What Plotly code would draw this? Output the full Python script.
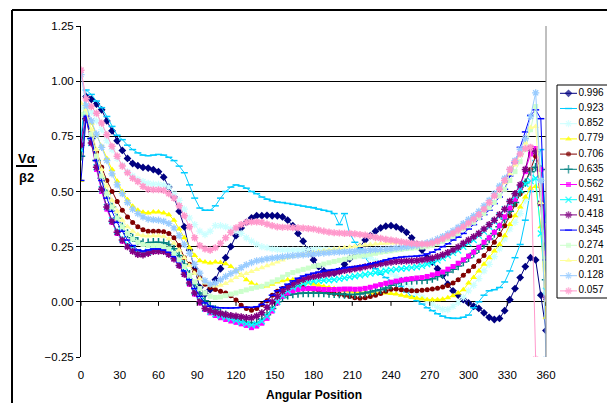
import plotly.graph_objects as go

# ---------------- data ----------------
angles = list(range(0, 361, 4))
series_names = ["0.996", "0.923", "0.852", "0.779", "0.706", "0.635", "0.562",
                "0.491", "0.418", "0.345", "0.274", "0.201", "0.128", "0.057"]
x_ticks = list(range(0, 361, 30))
y_ticks = [-0.25, 0.0, 0.25, 0.5, 0.75, 1.0, 1.25]

v0996 = [0.72, 0.93, 0.918, 0.896, 0.87, 0.82, 0.775, 0.73, 0.686, 0.65,
         0.627, 0.617, 0.609, 0.606, 0.599, 0.59, 0.565, 0.52, 0.475, 0.41,
         0.34, 0.235, 0.15, 0.065, 0.035, 0.056, 0.10, 0.15, 0.20, 0.25,
         0.30, 0.335, 0.36, 0.38, 0.39, 0.39, 0.392, 0.39, 0.39, 0.385,
         0.37, 0.345, 0.31, 0.275, 0.235, 0.19, 0.16, 0.14, 0.13, 0.13,
         0.14, 0.17, 0.195, 0.22, 0.25, 0.28, 0.30, 0.32, 0.335, 0.343,
         0.345, 0.34, 0.33, 0.315, 0.29, 0.26, 0.235, 0.20, 0.18, 0.15,
         0.12, 0.08, 0.05, 0.03, 0.01, -0.005, -0.02, -0.03, -0.05, -0.07,
         -0.08, -0.075, -0.04, 0.01, 0.06, 0.11, 0.16, 0.20, 0.19, 0.03,
         -0.13]
v0923 = [0.74, 0.96, 0.94, 0.91, 0.88, 0.84, 0.795, 0.755, 0.735, 0.71,
         0.69, 0.675, 0.665, 0.662, 0.665, 0.668, 0.665, 0.655, 0.64, 0.615,
         0.585, 0.53, 0.47, 0.425, 0.415, 0.415, 0.435, 0.47, 0.50, 0.52,
         0.53, 0.525, 0.515, 0.50, 0.49, 0.475, 0.465, 0.458, 0.452, 0.45,
         0.446, 0.442, 0.438, 0.434, 0.43, 0.427, 0.42, 0.415, 0.41, 0.40,
         0.35, 0.40, 0.31, 0.27, 0.24, 0.20, 0.17, 0.15, 0.125, 0.11,
         0.095, 0.085, 0.07, 0.045, 0.025, 0.005, -0.01, -0.027, -0.04, -0.054,
         -0.065, -0.072, -0.075, -0.075, -0.07, -0.06, -0.027, 0.0, 0.03, 0.05,
         0.055, 0.065, 0.09, 0.14, 0.20, 0.26, 0.37, 0.50, 0.64, 0.69,
         0.36]
v0852 = [0.88, 0.89, 0.86, 0.82, 0.78, 0.73, 0.69, 0.65, 0.62, 0.59,
         0.57, 0.555, 0.545, 0.537, 0.533, 0.532, 0.53, 0.52, 0.49, 0.46,
         0.42, 0.38, 0.35, 0.32, 0.305, 0.32, 0.345, 0.345, 0.34, 0.33,
         0.32, 0.31, 0.29, 0.275, 0.26, 0.25, 0.245, 0.24, 0.237, 0.235,
         0.235, 0.235, 0.235, 0.236, 0.237, 0.238, 0.238, 0.237, 0.236, 0.235,
         0.232, 0.23, 0.228, 0.225, 0.22, 0.21, 0.20, 0.185, 0.165, 0.148,
         0.13, 0.115, 0.10, 0.08, 0.06, 0.04, 0.02, 0.005, -0.01, -0.025,
         -0.035, -0.035, -0.02, -0.003, 0.02, 0.05, 0.075, 0.105, 0.14, 0.17,
         0.205, 0.24, 0.285, 0.33, 0.36, 0.40, 0.46, 0.53, 0.63, 0.55,
         0.16]
v0779 = [0.55, 0.855, 0.81, 0.757, 0.704, 0.65, 0.60, 0.546, 0.50, 0.463,
         0.433, 0.415, 0.406, 0.403, 0.407, 0.407, 0.403, 0.395, 0.37, 0.33,
         0.29, 0.245, 0.21, 0.186, 0.181, 0.176, 0.18, 0.178, 0.173, 0.16,
         0.143, 0.12, 0.10, 0.085, 0.075, 0.07, 0.072, 0.08, 0.09, 0.095,
         0.10, 0.10, 0.095, 0.09, 0.085, 0.08, 0.075, 0.07, 0.065, 0.06,
         0.055, 0.05, 0.048, 0.045, 0.043, 0.042, 0.04, 0.04, 0.04, 0.04,
         0.038, 0.035, 0.03, 0.025, 0.02, 0.016, 0.013, 0.01, 0.01, 0.01,
         0.012, 0.018, 0.028, 0.04, 0.055, 0.085, 0.11, 0.14, 0.17, 0.20,
         0.23, 0.26, 0.30, 0.35, 0.39, 0.43, 0.475, 0.515, 0.523, 0.34,
         -0.07]
v0706 = [0.70, 0.84, 0.76, 0.68, 0.61, 0.55, 0.50, 0.455, 0.415, 0.385,
         0.36, 0.34, 0.327, 0.32, 0.32, 0.32, 0.318, 0.31, 0.29, 0.255,
         0.20, 0.17, 0.14, 0.11, 0.08, 0.065, 0.056, 0.048, 0.04, 0.028,
         0.008, -0.015, -0.03, -0.038, -0.03, -0.012, 0.005, 0.03, 0.048, 0.06,
         0.066, 0.07, 0.07, 0.067, 0.062, 0.057, 0.052, 0.046, 0.042, 0.038,
         0.034, 0.03, 0.024, 0.018, 0.016, 0.018, 0.024, 0.03, 0.038, 0.048,
         0.057, 0.058, 0.055, 0.052, 0.05, 0.05, 0.052, 0.055, 0.058, 0.062,
         0.067, 0.074, 0.085, 0.10, 0.12, 0.14, 0.16, 0.185, 0.21, 0.24,
         0.27, 0.305, 0.345, 0.39, 0.44, 0.49, 0.54, 0.60, 0.66, 0.60,
         0.26]
v0635 = [0.66, 0.83, 0.74, 0.64, 0.56, 0.49, 0.43, 0.38, 0.34, 0.31,
         0.29, 0.275, 0.268, 0.268, 0.27, 0.27, 0.268, 0.26, 0.24, 0.21,
         0.17, 0.125, 0.08, 0.04, 0.005, -0.02, -0.035, -0.048, -0.058, -0.068,
         -0.078, -0.087, -0.093, -0.097, -0.095, -0.08, -0.058, -0.03, 0.0, 0.02,
         0.03, 0.035, 0.038, 0.04, 0.04, 0.04, 0.04, 0.04, 0.038, 0.036,
         0.035, 0.033, 0.033, 0.033, 0.036, 0.04, 0.045, 0.05, 0.055, 0.063,
         0.075, 0.085, 0.092, 0.095, 0.097, 0.098, 0.099, 0.10, 0.105, 0.115,
         0.125, 0.135, 0.148, 0.162, 0.18, 0.20, 0.22, 0.24, 0.26, 0.285,
         0.31, 0.34, 0.375, 0.41, 0.45, 0.495, 0.54, 0.59, 0.61, 0.60,
         0.10]
v0562 = [0.72, 0.84, 0.72, 0.60, 0.50, 0.42, 0.36, 0.31, 0.275, 0.25,
         0.23, 0.218, 0.215, 0.22, 0.228, 0.23, 0.228, 0.215, 0.195, 0.165,
         0.125, 0.08, 0.035, -0.005, -0.035, -0.05, -0.062, -0.072, -0.08, -0.087,
         -0.093, -0.10, -0.107, -0.117, -0.11, -0.097, -0.075, -0.042, -0.005, 0.025,
         0.04, 0.05, 0.056, 0.059, 0.06, 0.06, 0.058, 0.056, 0.056, 0.056,
         0.057, 0.058, 0.058, 0.057, 0.058, 0.061, 0.066, 0.072, 0.078, 0.084,
         0.089, 0.094, 0.098, 0.102, 0.105, 0.108, 0.11, 0.115, 0.122, 0.128,
         0.135, 0.148, 0.16, 0.175, 0.19, 0.207, 0.225, 0.247, 0.27, 0.29,
         0.315, 0.345, 0.385, 0.425, 0.465, 0.52, 0.59, 0.67, 0.695, 0.60,
         0.22]
v0491 = [0.69, 0.84, 0.72, 0.61, 0.51, 0.43, 0.37, 0.32, 0.285, 0.26,
         0.24, 0.225, 0.222, 0.227, 0.235, 0.238, 0.235, 0.225, 0.205, 0.175,
         0.135, 0.09, 0.045, 0.005, -0.03, -0.045, -0.055, -0.063, -0.07, -0.077,
         -0.085, -0.092, -0.10, -0.105, -0.10, -0.088, -0.065, -0.035, 0.0, 0.03,
         0.05, 0.065, 0.074, 0.083, 0.089, 0.093, 0.095, 0.097, 0.098, 0.10,
         0.104, 0.108, 0.112, 0.116, 0.12, 0.124, 0.128, 0.132, 0.136, 0.14,
         0.145, 0.147, 0.15, 0.152, 0.155, 0.158, 0.163, 0.17, 0.178, 0.188,
         0.198, 0.21, 0.222, 0.233, 0.25, 0.265, 0.28, 0.30, 0.318, 0.34,
         0.365, 0.39, 0.42, 0.45, 0.48, 0.51, 0.535, 0.548, 0.56, 0.31,
         0.05]
v0418 = [0.71, 0.83, 0.72, 0.61, 0.51, 0.43, 0.365, 0.315, 0.28, 0.25,
         0.23, 0.215, 0.213, 0.22, 0.228, 0.23, 0.228, 0.215, 0.195, 0.165,
         0.125, 0.085, 0.04, 0.0, -0.03, -0.04, -0.048, -0.053, -0.058, -0.062,
         -0.065, -0.068, -0.072, -0.072, -0.065, -0.05, -0.025, 0.0, 0.025, 0.048,
         0.065, 0.08, 0.093, 0.102, 0.11, 0.115, 0.119, 0.123, 0.127, 0.132,
         0.137, 0.142, 0.146, 0.15, 0.154, 0.159, 0.164, 0.169, 0.173, 0.176,
         0.18, 0.183, 0.184, 0.185, 0.186, 0.187, 0.19, 0.193, 0.198, 0.205,
         0.213, 0.223, 0.235, 0.248, 0.265, 0.28, 0.295, 0.31, 0.33, 0.35,
         0.37, 0.395, 0.42, 0.455, 0.49, 0.53, 0.60, 0.697, 0.68, 0.446,
         0.02]
v0345 = [0.55, 0.84, 0.74, 0.64, 0.55, 0.47, 0.41, 0.36, 0.32, 0.28,
         0.255, 0.235, 0.23, 0.235, 0.24, 0.24, 0.235, 0.225, 0.205, 0.18,
         0.14, 0.10, 0.06, 0.025, -0.005, -0.02, -0.025, -0.027, -0.028, -0.028,
         -0.027, -0.025, -0.025, -0.025, -0.022, -0.012, 0.005, 0.03, 0.05, 0.065,
         0.08, 0.095, 0.107, 0.117, 0.124, 0.13, 0.135, 0.14, 0.143, 0.146,
         0.15, 0.154, 0.157, 0.16, 0.163, 0.167, 0.172, 0.177, 0.183, 0.19,
         0.196, 0.20, 0.203, 0.205, 0.206, 0.207, 0.21, 0.217, 0.225, 0.237,
         0.25, 0.263, 0.28, 0.293, 0.31, 0.33, 0.35, 0.375, 0.395, 0.415,
         0.445, 0.475, 0.51, 0.57, 0.63, 0.70, 0.77, 0.845, 0.87, 0.83,
         0.19]
v0274 = [0.85, 0.86, 0.76, 0.66, 0.57, 0.49, 0.43, 0.38, 0.34, 0.31,
         0.285, 0.27, 0.26, 0.255, 0.255, 0.255, 0.25, 0.24, 0.22, 0.19,
         0.16, 0.12, 0.09, 0.06, 0.04, 0.025, 0.02, 0.022, 0.028, 0.035,
         0.04, 0.047, 0.054, 0.06, 0.066, 0.07, 0.08, 0.09, 0.10, 0.112,
         0.124, 0.133, 0.14, 0.147, 0.153, 0.16, 0.165, 0.171, 0.177, 0.183,
         0.188, 0.193, 0.199, 0.204, 0.208, 0.212, 0.216, 0.22, 0.225, 0.228,
         0.231, 0.235, 0.238, 0.241, 0.243, 0.245, 0.248, 0.252, 0.256, 0.264,
         0.274, 0.285, 0.297, 0.31, 0.33, 0.345, 0.36, 0.38, 0.40, 0.425,
         0.45, 0.48, 0.51, 0.55, 0.59, 0.635, 0.69, 0.78, 0.885, 0.55,
         0.04]
v0201 = [0.90, 0.87, 0.78, 0.69, 0.60, 0.525, 0.46, 0.41, 0.37, 0.34,
         0.32, 0.305, 0.30, 0.298, 0.30, 0.30, 0.297, 0.285, 0.265, 0.235,
         0.20, 0.165, 0.13, 0.105, 0.085, 0.075, 0.072, 0.075, 0.083, 0.095,
         0.11, 0.12, 0.128, 0.137, 0.146, 0.155, 0.163, 0.172, 0.18, 0.19,
         0.20, 0.205, 0.21, 0.215, 0.22, 0.224, 0.228, 0.232, 0.235, 0.238,
         0.242, 0.245, 0.248, 0.252, 0.255, 0.258, 0.26, 0.262, 0.264, 0.266,
         0.267, 0.268, 0.268, 0.266, 0.264, 0.262, 0.262, 0.265, 0.27, 0.282,
         0.295, 0.305, 0.318, 0.33, 0.35, 0.368, 0.385, 0.405, 0.425, 0.45,
         0.48, 0.51, 0.54, 0.58, 0.62, 0.665, 0.72, 0.79, 0.795, 0.45,
         0.0]
v0128 = [1.03, 0.89, 0.82, 0.76, 0.70, 0.64, 0.58, 0.53, 0.49, 0.45,
         0.42, 0.40, 0.385, 0.375, 0.372, 0.37, 0.365, 0.355, 0.335, 0.30,
         0.26, 0.22, 0.17, 0.13, 0.095, 0.08, 0.085, 0.10, 0.115, 0.128,
         0.14, 0.155, 0.168, 0.178, 0.186, 0.19, 0.195, 0.198, 0.201, 0.204,
         0.207, 0.209, 0.211, 0.213, 0.215, 0.217, 0.219, 0.221, 0.223, 0.225,
         0.226, 0.227, 0.228, 0.229, 0.23, 0.232, 0.234, 0.236, 0.237, 0.238,
         0.24, 0.243, 0.246, 0.249, 0.252, 0.256, 0.262, 0.268, 0.275, 0.285,
         0.296, 0.308, 0.322, 0.338, 0.355, 0.373, 0.39, 0.41, 0.435, 0.46,
         0.49, 0.525, 0.56, 0.60, 0.64, 0.69, 0.74, 0.84, 0.947, 0.55,
         -0.26]
v0057 = [1.05, 0.92, 0.885, 0.855, 0.81, 0.757, 0.705, 0.66, 0.615, 0.585,
         0.56, 0.545, 0.523, 0.51, 0.508, 0.508, 0.505, 0.49, 0.47, 0.435,
         0.39, 0.34, 0.29, 0.255, 0.24, 0.234, 0.245, 0.265, 0.29, 0.315,
         0.335, 0.35, 0.36, 0.362, 0.362, 0.36, 0.352, 0.345, 0.34, 0.338,
         0.338, 0.336, 0.335, 0.334, 0.332, 0.33, 0.325, 0.32, 0.316, 0.313,
         0.312, 0.31, 0.31, 0.308, 0.305, 0.302, 0.298, 0.292, 0.288, 0.283,
         0.28, 0.276, 0.272, 0.268, 0.265, 0.263, 0.262, 0.262, 0.266, 0.275,
         0.285, 0.298, 0.31, 0.325, 0.34, 0.357, 0.375, 0.395, 0.42, 0.45,
         0.48, 0.51, 0.55, 0.60, 0.635, 0.67, 0.695, 0.70, -0.26, None,
         None]

series_values = [v0996, v0923, v0852, v0779, v0706, v0635, v0562,
                 v0491, v0418, v0345, v0274, v0201, v0128, v0057]

# ---------------- styles ----------------
colors = ["#000080", "#00CCFF", "#CCFFFF", "#FFFF00", "#800000", "#008080", "#FF00FF",
          "#00FFFF", "#800080", "#0000FF", "#CCFFCC", "#FFFF99", "#99CCFF", "#FF99CC"]
symbols = ["diamond", "line-ew-open", "asterisk-open", "triangle-up", "circle",
           "cross-thin-open", "square", "x-thin-open", "asterisk-open", "line-ew-open",
           "square", "triangle-up", "asterisk-open", "asterisk-open"]
msizes = [6, 5, 6, 6, 5, 6, 5, 6, 6, 5, 5, 6, 6, 6]
mlinew = [0, 1.5, 1.2, 0, 0, 1.5, 0, 1.3, 1.5, 1.5, 0, 0, 1.3, 1.5]

FONT = "Liberation Sans, Arial, sans-serif"
W, H = 607, 403
ML, MT, MB = 81, 26, 46
PLOT_R = 546
paper_w = W - ML
plot_frac = (PLOT_R - ML) / paper_w
plot_h = H - MT - MB
units_per_px = (y_ticks[-1] - y_ticks[0]) / plot_h


def px_x(px):
    return (px - ML) / paper_w


def px_y(py):
    return (H - MB - py) / plot_h


fig = go.Figure()

for name, vals, c, s, ms, lw in zip(series_names, series_values, colors, symbols, msizes, mlinew):
    fig.add_trace(go.Scatter(
        x=angles, y=vals, name=name, mode="lines+markers",
        line=dict(color=c, width=1),
        marker=dict(symbol=s, size=ms, color=c, line=dict(color=c, width=lw)),
        showlegend=False, cliponaxis=True, connectgaps=False,
    ))

# custom legend (Excel-style compact box)
rows = list(range(len(series_names)))
for i, (c, s, ms, lw) in enumerate(zip(colors, symbols, msizes, mlinew)):
    fig.add_trace(go.Scatter(
        x=[3, 11.5, 20], y=[i, i, i], mode="lines+markers",
        line=dict(color=c, width=1),
        marker=dict(symbol=s, size=[0, ms, 0], color=c, line=dict(color=c, width=lw)),
        xaxis="x3", yaxis="y3", showlegend=False, hoverinfo="skip",
    ))
fig.add_trace(go.Scatter(
    x=[21.5] * len(series_names), y=rows, text=series_names, mode="text",
    textposition="middle right", textfont=dict(family=FONT, size=10, color="black"),
    xaxis="x3", yaxis="y3", showlegend=False, hoverinfo="skip",
))

leg_top, leg_bot = 85, 298
row0, row_step = 93.3, 15.2
fig.update_layout(
    width=W, height=H, autosize=False,
    margin=dict(l=ML, r=0, t=MT, b=MB, pad=0, autoexpand=False),
    paper_bgcolor="white", plot_bgcolor="white",
    showlegend=False,
    font=dict(family=FONT, color="black"),
    xaxis=dict(domain=[0, plot_frac], range=[0, 360], tickvals=x_ticks,
               showgrid=False, zeroline=False, showline=False,
               ticks="outside", ticklen=7, tickcolor="rgba(0,0,0,0)",
               tickfont=dict(size=11.5), fixedrange=True, automargin=False),
    yaxis=dict(range=[y_ticks[0], y_ticks[-1]], tickvals=y_ticks, tickformat=".2f",
               showgrid=True, gridcolor="black", gridwidth=1,
               zeroline=True, zerolinecolor="black", zerolinewidth=1,
               showline=True, linecolor="black", linewidth=1,
               ticks="outside", ticklen=4, tickcolor="black",
               tickfont=dict(size=11.5), fixedrange=True, automargin=False),
    xaxis3=dict(domain=[px_x(557), 1], range=[0, W - 557], visible=False,
                fixedrange=True, anchor="y3"),
    yaxis3=dict(domain=[px_y(leg_bot), px_y(leg_top)],
                range=[(leg_bot - row0) / row_step, -(row0 - leg_top) / row_step],
                visible=False, fixedrange=True, anchor="x3"),
)

shapes = [
    # outer chart frame (left and top edges are visible)
    dict(type="line", xref="paper", yref="paper", x0=px_x(12), x1=px_x(12),
         y0=px_y(H + 10), y1=px_y(10), line=dict(color="black", width=2)),
    dict(type="line", xref="paper", yref="paper", x0=px_x(12), x1=px_x(W + 10),
         y0=px_y(10), y1=px_y(10), line=dict(color="black", width=2)),
    # plot-area right border (grey), bounded by the y range
    dict(type="line", xref="paper", yref="y", x0=plot_frac, x1=plot_frac,
         y0=y_ticks[0], y1=y_ticks[-1], line=dict(color="#808080", width=1)),
    # legend box
    dict(type="rect", xref="paper", yref="paper", x0=px_x(557), x1=px_x(W + 10),
         y0=px_y(leg_bot), y1=px_y(leg_top), line=dict(color="black", width=1)),
    # fraction bar of the y title
    dict(type="line", xref="paper", yref="paper", x0=px_x(16), x1=px_x(37),
         y0=px_y(166), y1=px_y(166), line=dict(color="black", width=2)),
]
# small tick marks hanging below the zero line at each x tick
for t in x_ticks:
    shapes.append(dict(type="line", xref="x", yref="y", x0=t, x1=t,
                       y0=0, y1=-4 * units_per_px, line=dict(color="black", width=1)))
fig.update_layout(shapes=shapes)

fig.add_annotation(text="<b>Vα</b>", xref="paper", yref="paper", x=px_x(26), y=px_y(158),
                   xanchor="center", yanchor="middle", showarrow=False, font=dict(size=13))
fig.add_annotation(text="<b>β2</b>", xref="paper", yref="paper", x=px_x(26), y=px_y(177),
                   xanchor="center", yanchor="middle", showarrow=False, font=dict(size=13))
fig.add_annotation(text="<b>Angular Position</b>", xref="paper", yref="paper",
                   x=px_x((ML + PLOT_R) / 2), y=px_y(395),
                   xanchor="center", yanchor="middle", showarrow=False, font=dict(size=12))

fig.write_html("out.html")
